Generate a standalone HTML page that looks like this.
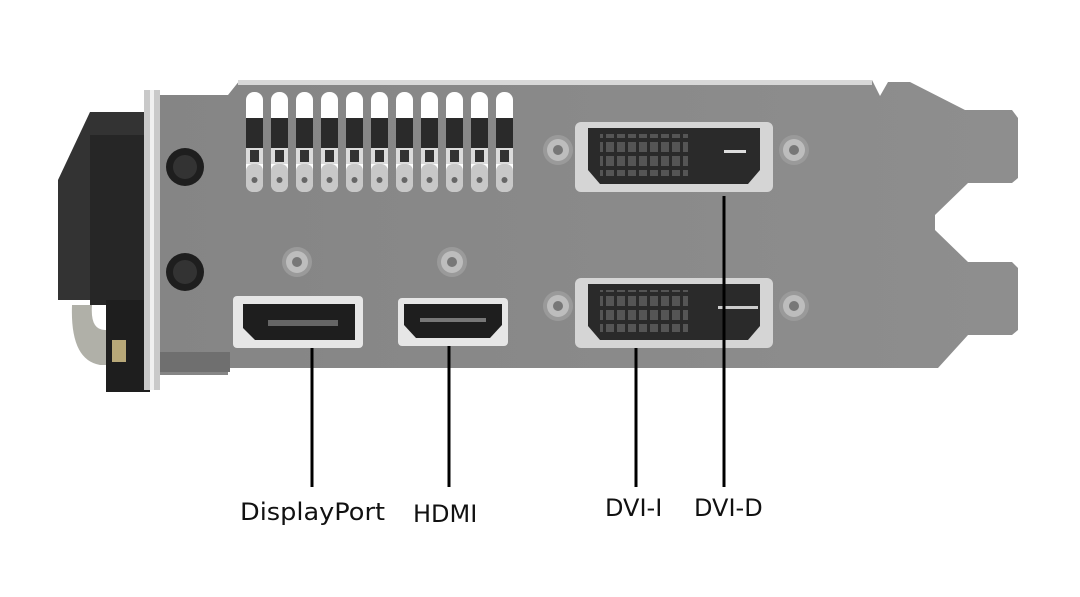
<!DOCTYPE html>
<html><head><style>
body{margin:0;background:#fff;width:1080px;height:597px;overflow:hidden}
svg{display:block}
text{font-family:"DejaVu Sans","Liberation Sans",sans-serif;font-size:24px;fill:#111}
</style></head><body>
<svg width="1080" height="597" viewBox="0 0 1080 597">
<defs>
<linearGradient id="g" x1="0" y1="0" x2="1" y2="0"><stop offset="0" stop-color="#858585"/><stop offset="1" stop-color="#8e8e8e"/></linearGradient>
<g id="vent">
 <rect x="0" y="92" width="17" height="100" rx="8" fill="#fff"/>
 <rect x="0" y="118" width="17" height="30" fill="#2a2a2a"/>
 <rect x="0" y="148" width="17" height="16" fill="#dcdcdc"/>
 <rect x="4" y="150" width="9" height="12" fill="#333"/>
 <rect x="0" y="164" width="17" height="28" rx="7" fill="#c8c8c8"/>
 <circle cx="8.5" cy="180" r="3" fill="#666"/>
</g>
<g id="screw"><circle r="15" fill="#9a9a9a"/><circle r="11" fill="#bdbdbd"/><circle r="5" fill="#777"/></g>
<pattern id="pins" width="11" height="14" patternUnits="userSpaceOnUse"><rect width="11" height="14" fill="#2a2a2a"/><rect x="1" y="2" width="8" height="10" fill="#555"/></pattern>
</defs>
<rect width="1080" height="597" fill="#fff"/>
<path d="M58 180 L90 112 L150 112 L150 300 L58 300Z" fill="#333"/>
<rect x="90" y="135" width="60" height="170" fill="#262626"/>
<path d="M72 305 Q70 360 100 365 L150 365 L150 330 L105 330 Q90 330 92 305Z" fill="#b0b0a8"/>
<rect x="106" y="300" width="44" height="92" fill="#1e1e1e"/>
<rect x="112" y="340" width="14" height="22" fill="#b8a878"/>
<path d="M160 95 L228 95 L240 80 L872 80 L880 96 L888 82 L910 82 L965 110 L1012 110 L1018 118 L1018 178 L1012 183 L968 183 L935 215 L935 230 L968 262 L1012 262 L1018 268 L1018 330 L1012 335 L968 335 L938 368 L228 368 L228 375 L160 375Z" fill="url(#g)"/>
<rect x="238" y="80" width="634" height="5" fill="#d8d8d8"/>
<rect x="144" y="90" width="16" height="300" fill="#c9c9c9"/>
<rect x="150" y="90" width="4" height="300" fill="#f0f0f0"/>
<rect x="160" y="352" width="70" height="20" fill="#6f6f6f"/>
<use href="#vent" x="246"/><use href="#vent" x="271"/><use href="#vent" x="296"/><use href="#vent" x="321"/><use href="#vent" x="346"/><use href="#vent" x="371"/><use href="#vent" x="396"/><use href="#vent" x="421"/><use href="#vent" x="446"/><use href="#vent" x="471"/><use href="#vent" x="496"/>
<circle cx="185" cy="167" r="19" fill="#1e1e1e"/><circle cx="185" cy="167" r="12" fill="#333"/>
<circle cx="185" cy="272" r="19" fill="#1e1e1e"/><circle cx="185" cy="272" r="12" fill="#333"/>
<use href="#screw" x="297" y="262"/><use href="#screw" x="452" y="262"/>
<use href="#screw" x="558" y="150"/><use href="#screw" x="794" y="150"/>
<use href="#screw" x="558" y="306"/><use href="#screw" x="794" y="306"/>
<rect x="233" y="296" width="130" height="52" rx="4" fill="#e6e6e6"/>
<path d="M243 304 L355 304 L355 340 L255 340 L243 328Z" fill="#1e1e1e"/>
<rect x="268" y="320" width="70" height="6" fill="#666"/>
<rect x="398" y="298" width="110" height="48" rx="4" fill="#e6e6e6"/>
<path d="M404 304 L502 304 L502 325 L490 338 L416 338 L404 325Z" fill="#1e1e1e"/>
<rect x="420" y="318" width="66" height="4" fill="#777"/>
<rect x="575" y="122" width="198" height="70" rx="6" fill="#d5d5d5"/>
<path d="M588 128 L760 128 L760 170 L748 184 L600 184 L588 170Z" fill="#2a2a2a"/>
<rect x="600" y="134" width="88" height="42" fill="url(#pins)"/>
<rect x="724" y="150" width="22" height="3" fill="#ddd"/>
<rect x="575" y="278" width="198" height="70" rx="6" fill="#d5d5d5"/>
<path d="M588 284 L760 284 L760 326 L748 340 L600 340 L588 326Z" fill="#2a2a2a"/>
<rect x="600" y="290" width="88" height="42" fill="url(#pins)"/>
<rect x="718" y="306" width="40" height="3" fill="#ccc"/>
<g stroke="#000" stroke-width="3">
<line x1="312" y1="348" x2="312" y2="487"/>
<line x1="449" y1="346" x2="449" y2="487"/>
<line x1="636" y1="348" x2="636" y2="487"/>
<line x1="724" y1="196" x2="724" y2="487"/>
</g>
<text x="240" y="520" textLength="145" lengthAdjust="spacingAndGlyphs">DisplayPort</text>
<text x="413" y="522">HDMI</text>
<text x="605" y="516">DVI-I</text>
<text x="694" y="516">DVI-D</text>
</svg>
</body></html>
